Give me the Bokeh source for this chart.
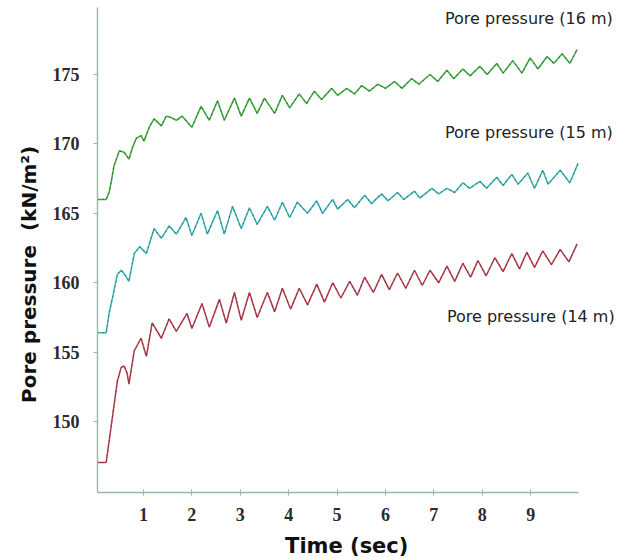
import math
from bokeh.plotting import figure
from bokeh.models import Label, FixedTicker, Range1d
from bokeh.embed import file_html
from bokeh.resources import INLINE

# ---- data ----
x_ticks = [1, 2, 3, 4, 5, 6, 7, 8, 9]
y_ticks = [150, 155, 160, 165, 170, 175]

series_names = ["Pore pressure (16 m)", "Pore pressure (15 m)", "Pore pressure (14 m)"]

t_16 = [0.05, 0.23, 0.29, 0.33, 0.39, 0.46, 0.50, 0.60, 0.70, 0.77,
        0.85, 0.95, 1.01, 1.12, 1.22, 1.37, 1.47, 1.57, 1.68, 1.80,
        2.00, 2.19, 2.36, 2.53, 2.67, 2.88, 3.02, 3.19, 3.35, 3.50,
        3.71, 3.87, 4.02, 4.22, 4.37, 4.53, 4.68, 4.89, 5.01, 5.20,
        5.36, 5.51, 5.67, 5.84, 6.00, 6.19, 6.34, 6.54, 6.69, 6.92,
        7.08, 7.27, 7.41, 7.60, 7.75, 7.95, 8.10, 8.30, 8.43, 8.63,
        8.82, 8.99, 9.15, 9.34, 9.48, 9.65, 9.81, 9.96]
p_16 = [166.0, 166.0, 166.5, 167.2, 168.4, 169.1, 169.5, 169.4, 168.9, 169.7,
        170.4, 170.6, 170.2, 171.2, 171.8, 171.3, 172.0, 171.9, 171.7, 172.0,
        171.2, 172.7, 171.7, 173.1, 171.7, 173.3, 172.0, 173.3, 172.2, 173.3,
        172.2, 173.5, 172.6, 173.6, 172.9, 173.8, 173.2, 174.0, 173.5, 174.0,
        173.6, 174.2, 173.8, 174.3, 174.0, 174.5, 174.0, 174.7, 174.3, 175.0,
        174.5, 175.3, 174.7, 175.4, 174.9, 175.6, 175.0, 175.8, 175.1, 176.0,
        175.1, 176.2, 175.4, 176.3, 175.8, 176.5, 175.8, 176.8]

t_15 = [0.05, 0.23, 0.29, 0.39, 0.46, 0.54, 0.63, 0.70, 0.81, 0.92,
        1.06, 1.22, 1.37, 1.53, 1.68, 1.88, 2.00, 2.19, 2.32, 2.53,
        2.67, 2.84, 3.02, 3.19, 3.35, 3.56, 3.71, 3.87, 4.02, 4.18,
        4.39, 4.58, 4.70, 4.91, 5.01, 5.22, 5.36, 5.57, 5.71, 5.92,
        6.05, 6.25, 6.38, 6.60, 6.71, 6.96, 7.10, 7.27, 7.43, 7.60,
        7.74, 7.95, 8.09, 8.30, 8.43, 8.61, 8.74, 8.94, 9.08, 9.25,
        9.36, 9.61, 9.81, 9.98]
p_15 = [156.4, 156.4, 157.8, 159.4, 160.6, 160.9, 160.5, 160.1, 162.1, 162.6,
        162.1, 163.9, 163.2, 164.1, 163.5, 164.7, 163.4, 165.0, 163.5, 165.2,
        163.5, 165.5, 163.9, 165.4, 164.2, 165.5, 164.5, 165.8, 164.7, 165.8,
        165.0, 165.9, 165.0, 166.0, 165.3, 166.0, 165.4, 166.3, 165.7, 166.4,
        165.9, 166.5, 166.0, 166.6, 166.1, 166.8, 166.4, 166.8, 166.5, 167.2,
        166.8, 167.3, 166.8, 167.6, 167.0, 167.8, 167.1, 167.9, 166.8, 168.1,
        167.1, 168.1, 167.2, 168.6]

t_14 = [0.05, 0.23, 0.33, 0.46, 0.54, 0.60, 0.66, 0.70, 0.81, 0.95,
        1.06, 1.18, 1.37, 1.53, 1.68, 1.90, 2.00, 2.21, 2.36, 2.57,
        2.71, 2.88, 3.02, 3.19, 3.35, 3.56, 3.71, 3.87, 4.04, 4.22,
        4.39, 4.58, 4.74, 4.91, 5.08, 5.26, 5.42, 5.57, 5.75, 5.92,
        6.08, 6.25, 6.42, 6.60, 6.76, 6.92, 7.10, 7.27, 7.43, 7.60,
        7.76, 7.91, 8.08, 8.26, 8.43, 8.61, 8.77, 8.92, 9.08, 9.25,
        9.43, 9.61, 9.79, 9.96]
p_14 = [147.05, 147.05, 149.6, 152.9, 153.9, 154.0, 153.5, 152.7, 155.1, 156.0,
        154.7, 157.1, 156.0, 157.4, 156.5, 157.8, 156.7, 158.5, 156.8, 158.8,
        157.1, 159.3, 157.3, 159.3, 157.5, 159.3, 157.9, 159.6, 158.1, 159.6,
        158.4, 159.9, 158.6, 160.0, 158.9, 160.1, 159.1, 160.4, 159.3, 160.6,
        159.5, 160.7, 159.6, 160.9, 159.8, 160.9, 160.0, 161.2, 160.1, 161.4,
        160.4, 161.6, 160.5, 161.8, 160.8, 162.1, 161.0, 162.2, 161.1, 162.3,
        161.3, 162.4, 161.5, 162.8]

# ---- figure: the frame covers the whole page, axes are pinned inside it ----
X0, X1 = 0.05, 9.99          # extent of the drawn time axis
Y0, Y1 = 144.86, 179.85      # extent of the drawn pressure axis

p = figure(width=630, height=560,
           x_range=Range1d(-1.954, 11.063), y_range=Range1d(139.99, 180.33),
           output_backend="svg", toolbar_location=None,
           min_border_left=0, min_border_right=0,
           min_border_top=0, min_border_bottom=0)
p.outline_line_color = None
p.grid.visible = False
p.background_fill_color = "white"
p.border_fill_color = "white"

axis_col = "#9db5a9"
for ax in (p.xaxis, p.yaxis):
    ax.axis_line_color = axis_col
    ax.axis_line_width = 1.4
    ax.major_tick_line_color = axis_col
    ax.minor_tick_line_color = None
    ax.major_label_text_font = "Liberation Serif"
    ax.major_label_text_font_style = "bold"
    ax.major_label_text_font_size = "18px"
    ax.major_label_text_color = "#2b2b2b"

p.xaxis.ticker = FixedTicker(ticks=x_ticks)
p.yaxis.ticker = FixedTicker(ticks=y_ticks)
p.xaxis.fixed_location = Y0
p.yaxis.fixed_location = X0
p.xaxis.bounds = (X0, X1)
p.yaxis.bounds = (Y0, Y1)
p.xaxis.major_tick_in = 3
p.xaxis.major_tick_out = 3
p.xaxis.major_label_standoff = 12
p.yaxis.major_tick_in = 0
p.yaxis.major_tick_out = 4
p.yaxis.major_label_standoff = 14

colors = ["#39a83a", "#34b2b2", "#b43a4a"]
for tt, vv, c in ((t_16, p_16, colors[0]), (t_15, p_15, colors[1]), (t_14, p_14, colors[2])):
    p.line(tt, vv, line_color=c, line_width=1.5)
    p.line(tt, vv, line_color="#2a2a2a", line_width=1.2, line_alpha=0.55, line_dash="1 4")

# series labels
for name, lx, ly in ((series_names[0], 7.23, 179.05),
                     (series_names[1], 7.23, 170.85),
                     (series_names[2], 7.27, 157.55)):
    p.add_layout(Label(x=lx, y=ly, text=name, text_font="DejaVu Sans",
                       text_font_size="16px", text_color="#222222",
                       text_align="left", text_baseline="middle"))

# axis titles
p.add_layout(Label(x=-1.37, y=160.6, text="Pore pressure\u00a0\u00a0(kN/m\u00b2)",
                   text_font="DejaVu Sans", text_font_style="bold",
                   text_font_size="20px", text_color="#111111",
                   angle=math.pi / 2, text_align="center", text_baseline="middle"))
p.add_layout(Label(x=5.2, y=141.07, text="Time (sec)",
                   text_font="DejaVu Sans", text_font_style="bold",
                   text_font_size="21px", text_color="#111111",
                   text_align="center", text_baseline="middle"))

open("out.html", "w").write(file_html(p, INLINE))
